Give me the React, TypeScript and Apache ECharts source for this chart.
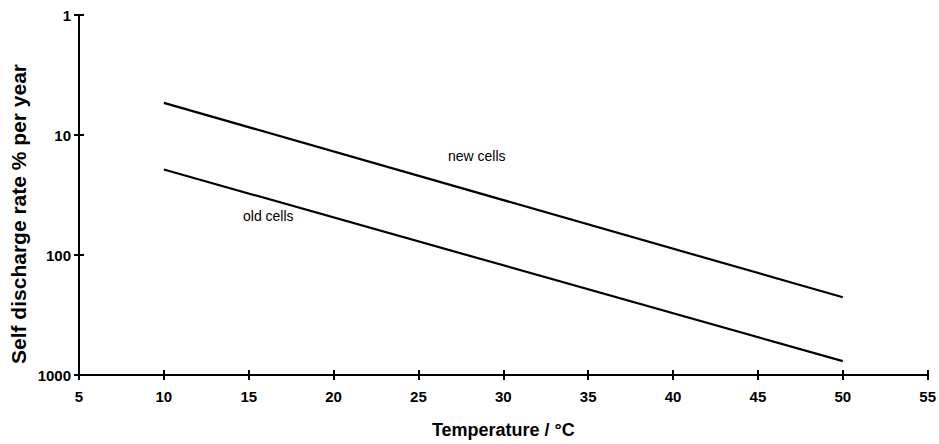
import React, { useEffect, useRef } from "react";
import * as echarts from "echarts";

const temperatures = [10, 50];
const newCells = [5.4, 225];
const oldCells = [19.4, 766];
const xTicks = { min: 5, max: 55, interval: 5 };
const yRange = { min: 1, max: 1000 };

const font = "'Liberation Sans', Arial, sans-serif";

export default function App() {
  const ref = useRef<HTMLDivElement>(null);
  useEffect(() => {
    if (!ref.current) return;
    const chart = echarts.init(ref.current, null, { renderer: "svg" });
    const axisLine = { lineStyle: { color: "#000", width: 2 } };
    const xBase = {
      type: "value" as const,
      min: xTicks.min,
      max: xTicks.max,
      interval: xTicks.interval,
      splitLine: { show: false },
      axisLine,
    };
    const yBase = {
      type: "log" as const,
      logBase: 10,
      min: yRange.min,
      max: yRange.max,
      inverse: true,
      splitLine: { show: false },
      minorTick: { show: false },
      axisLine,
    };
    chart.setOption({
      animation: false,
      backgroundColor: "#fff",
      grid: { left: 79, right: 11, top: 15, bottom: 68 },
      xAxis: [
        {
          ...xBase,
          axisTick: { show: true, length: 5, lineStyle: { color: "#000", width: 2 } },
          axisLabel: {
            color: "#000",
            fontFamily: font,
            fontWeight: "bold",
            fontSize: 15,
            margin: 14,
            showMaxLabel: true,
            showMinLabel: true,
          },
          name: "Temperature / °C",
          nameLocation: "middle",
          nameGap: 46,
          nameTextStyle: { color: "#000", fontFamily: font, fontWeight: "bold", fontSize: 18 },
        },
        {
          ...xBase,
          position: "bottom",
          axisTick: { show: true, inside: true, length: 5, lineStyle: { color: "#000", width: 2 } },
          axisLabel: { show: false },
        },
      ],
      yAxis: [
        {
          ...yBase,
          axisTick: { show: true, length: 5, lineStyle: { color: "#000", width: 2 } },
          axisLabel: {
            color: "#000",
            fontFamily: font,
            fontWeight: "bold",
            fontSize: 15,
            margin: 8,
            formatter: (v: number) => String(v),
          },
        },
        {
          ...yBase,
          position: "left",
          axisTick: { show: true, inside: true, length: 5, lineStyle: { color: "#000", width: 2 } },
          axisLabel: { show: false },
        },
      ],
      series: [
        {
          name: "new cells",
          type: "line",
          data: temperatures.map((t, i) => [t, newCells[i]]),
          showSymbol: false,
          lineStyle: { color: "#000", width: 2.2 },
        },
        {
          name: "old cells",
          type: "line",
          data: temperatures.map((t, i) => [t, oldCells[i]]),
          showSymbol: false,
          lineStyle: { color: "#000", width: 2.2 },
        },
      ],
      graphic: [
        {
          type: "text",
          x: 448,
          y: 149,
          style: { text: "new cells", fill: "#000", font: `14px ${font}` },
        },
        {
          type: "text",
          x: 243,
          y: 209,
          style: { text: "old cells", fill: "#000", font: `14px ${font}` },
        },
        {
          type: "text",
          x: 18,
          y: 214,
          rotation: Math.PI / 2,
          style: {
            text: "Self discharge rate % per year",
            fill: "#000",
            font: `bold 21px ${font}`,
            align: "center",
            verticalAlign: "middle",
          },
        },
      ],
    });
    return () => chart.dispose();
  }, []);
  return (
    <div
      ref={ref}
      style={{ position: "absolute", left: 0, top: 0, width: 939, height: 444 }}
    />
  );
}
